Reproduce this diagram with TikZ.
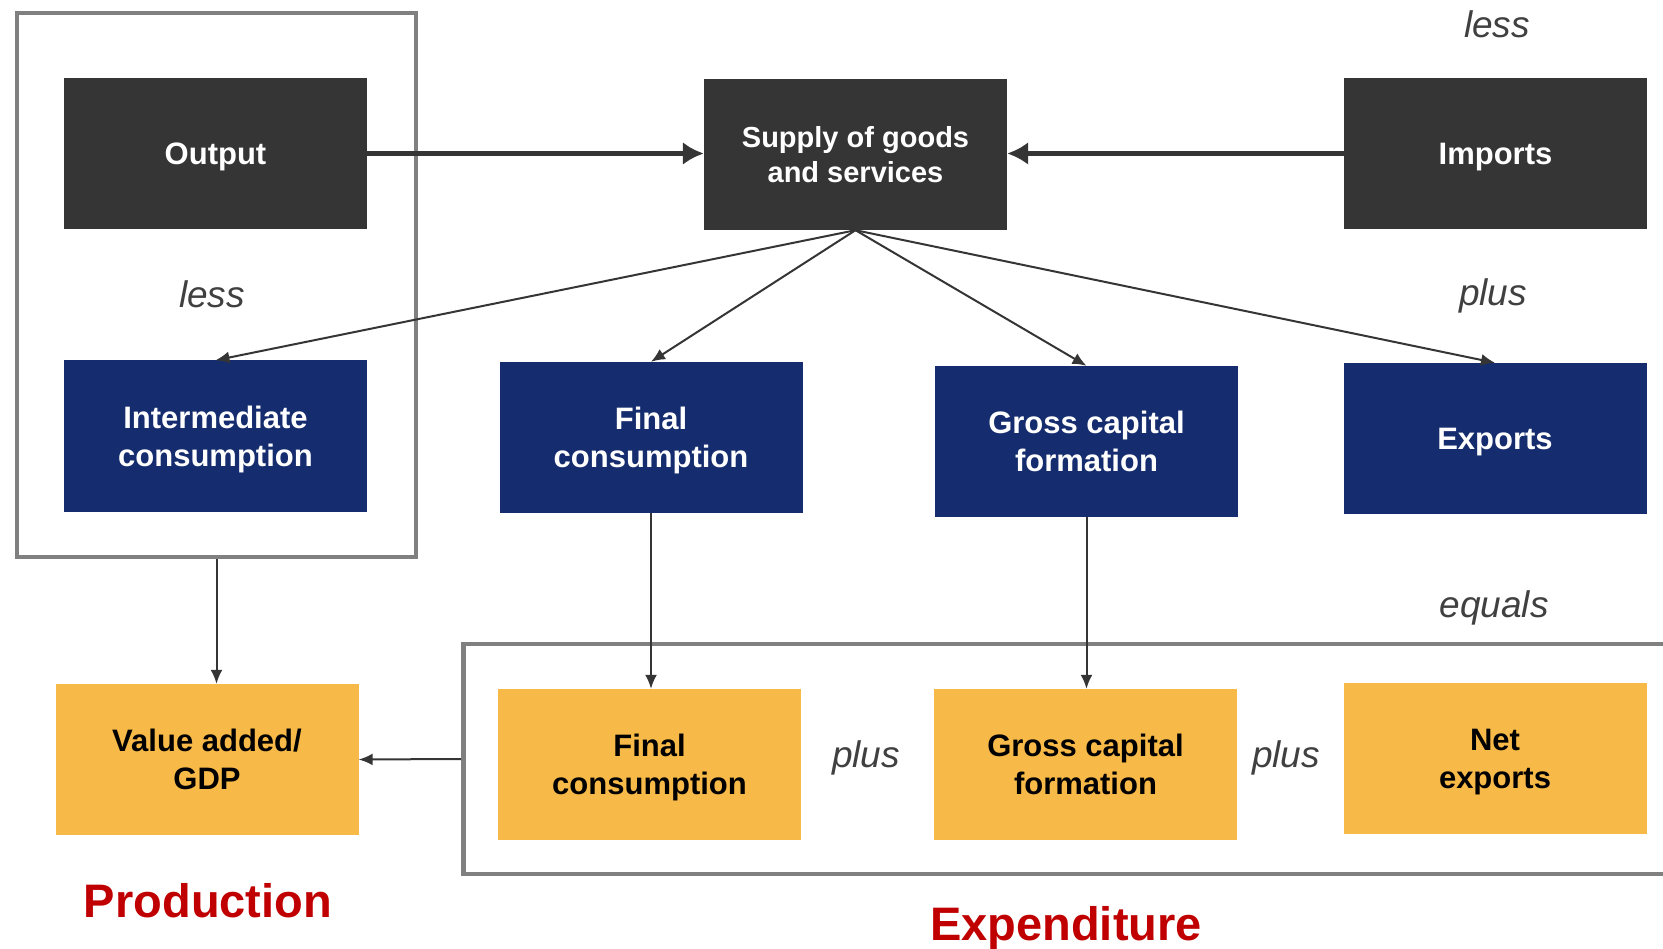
\documentclass[tikz,border=0pt]{standalone}
\usepackage{fontspec}
\setmainfont{Liberation Sans}
\usetikzlibrary{arrows.meta}

\definecolor{boxgray}{HTML}{353535}
\definecolor{boxblue}{HTML}{152D6E}
\definecolor{boxyellow}{HTML}{F7B947}
\definecolor{framegray}{HTML}{808080}
\definecolor{wordgray}{HTML}{404040}
\definecolor{titlered}{HTML}{C00000}

\tikzset{
  flowbox/.style={minimum width=303pt, minimum height=151pt, inner sep=0pt,
    text depth=0pt, align=center, font=\fontsize{31}{38}\selectfont\bfseries},
  darkbox/.style={flowbox, fill=boxgray, text=white},
  bluebox/.style={flowbox, fill=boxblue, text=white},
  yellowbox/.style={flowbox, fill=boxyellow, text=black},
  groupbox/.style={draw=framegray, line width=4.5pt, inner sep=0pt},
  opword/.style={text=wordgray, font=\fontsize{37}{44}\selectfont\itshape},
  sidetitle/.style={text=titlered, font=\fontsize{47}{56}\selectfont\bfseries},
  thickflow/.style={-{Latex[length=21pt,width=23pt]}, line width=5pt, draw=boxgray},
  thinflow/.style={-{Latex[length=14pt,width=12pt]}, line width=2pt, draw=boxgray}
}

\begin{document}
\begin{tikzpicture}[x=1pt,y=-1pt]
        \useasboundingbox (0,0) rectangle (1663,949);
        \clip (0,0) rectangle (1663,949);

        % the two grouping frames
        \node[groupbox, minimum width=399pt, minimum height=544pt] (prod) at (216.5,285) {};
        \node[groupbox, minimum width=1260pt, minimum height=230pt, anchor=west] (expd) at (461,759) {};

        % top row
        \node[darkbox] (out) at (215.5,153.5) {Output};
        \node[darkbox, font=\fontsize{29}{35}\selectfont\bfseries] (sup) at (855.5,154.5) {Supply of goods\\and services};
        \node[darkbox] (imp) at (1495.5,153.5) {Imports};

        % middle row
        \node[bluebox] (int) at (215.5,436) {Intermediate\\consumption};
        \node[bluebox] (fcb) at (651,437.5) {Final\\consumption};
        \node[bluebox] (gcb) at (1086.5,441.5) {Gross capital\\formation};
        \node[bluebox] (exb) at (1495,438.5) {Exports};

        % bottom row
        \node[yellowbox] (va) at (207,759.5) {Value added/\\GDP};
        \node[yellowbox] (fcy) at (649.5,764.5) {Final\\consumption};
        \node[yellowbox] (gcy) at (1085.5,764.5) {Gross capital\\formation};
        \node[yellowbox] (nex) at (1495,758.5) {Net\\exports};

        % the words between the boxes
        \node[opword] (lessimp) at (1497,24) {less};
        \node[opword] (lessint) at (212,294) {less};
        \node[opword] (plusexp) at (1493,296) {plus};
        \node[opword] (equals) at (1494,608) {equals};
        \node[opword] (plusa) at (866,758) {plus};
        \node[opword] (plusb) at (1286,758) {plus};

        % titles of the two approaches
        \node[sidetitle] (tprod) at (208,901) {Production};
        \node[sidetitle] (texpd) at (1066,928) {Expenditure};

        % flows into the supply
        \draw[thickflow] (out) -- (out -| sup.west);
        \draw[thickflow] (imp) -- (imp -| sup.east);

        % flows out of the supply
        \foreach \dst in {int,fcb,gcb,exb}
                \draw[thinflow] (sup.south) -- (\dst.north);

        % down to the bottom row
        \draw[thinflow] (prod.south) -- (prod.south |- va.north);
        \draw[thinflow] (fcb.south) -- (fcb.south |- fcy.north);
        \draw[thinflow] (gcb.south) -- (gcb.south |- gcy.north);
        \draw[thinflow] (expd.west) -- (va.east);
\end{tikzpicture}
\end{document}
